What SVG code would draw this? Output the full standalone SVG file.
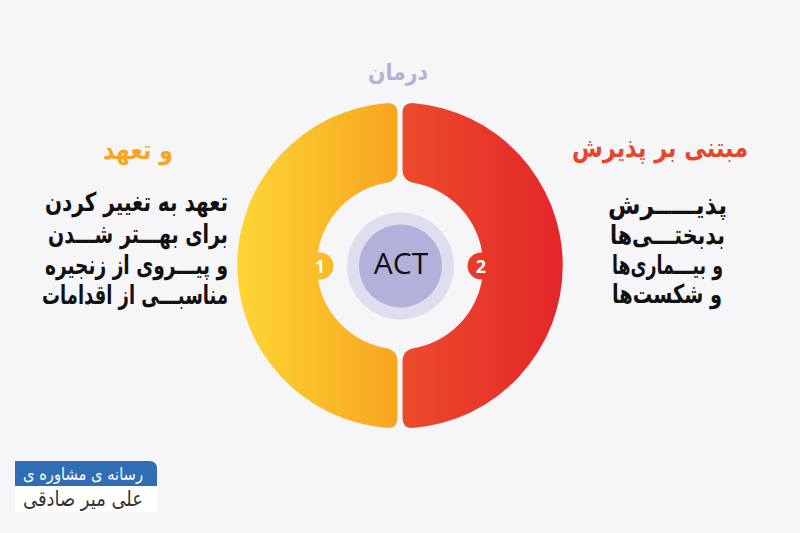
<svg xmlns="http://www.w3.org/2000/svg" width="800" height="533" viewBox="0 0 800 533">
<defs>
<linearGradient id="gL" gradientUnits="userSpaceOnUse" x1="237" y1="0" x2="398" y2="0">
<stop offset="0" stop-color="#fdd535"/><stop offset="1" stop-color="#f8a51f"/>
</linearGradient>
<linearGradient id="gR" gradientUnits="userSpaceOnUse" x1="402" y1="0" x2="563" y2="0">
<stop offset="0" stop-color="#ec4b2b"/><stop offset="1" stop-color="#e4262a"/>
</linearGradient>
<style>
.ar{font-family:"DejaVu Sans",sans-serif;font-weight:bold;}
.body{font-size:26px;fill:#111;text-anchor:end;}
.num{font-family:"Open Sans","DejaVu Sans",sans-serif;font-weight:bold;font-size:18px;fill:#fff;text-anchor:middle;}
</style>
</defs>
<rect width="800" height="533" fill="#f6f6f8"/>
<text class="ar" x="428" y="80" font-size="23" fill="#b2b2d6" text-anchor="end" textLength="60" lengthAdjust="spacingAndGlyphs">درمان</text>
<g id="seg1">
<path fill="url(#gL)" d="M397.5,113 L397.5,169 Q397.5,181.5 385,183 A84,84 0 0 0 385,348 Q397.5,349.5 397.5,362 L397.5,418 Q397.5,428.2 387.5,428 A163,163 0 0 1 387.5,103 Q397.5,102.8 397.5,113 Z"/>
<circle cx="320" cy="266" r="13.5" fill="url(#gL)"/>
<text class="num" x="320" y="272.5">1</text>
</g>
<g id="seg2">
<path fill="url(#gR)" d="M402.5,113 L402.5,169 Q402.5,181.5 415,183 A84,84 0 0 1 415,348 Q402.5,349.5 402.5,362 L402.5,418 Q402.5,428.2 412.5,428 A163,163 0 0 0 412.5,103 Q402.5,102.8 402.5,113 Z"/>
<circle cx="481" cy="266" r="13.5" fill="url(#gR)"/>
<text class="num" x="481" y="272.5">2</text>
</g>
<g id="act">
<circle cx="400.5" cy="266" r="53.5" fill="#dedeee"/>
<circle cx="400.5" cy="266" r="41.5" fill="#b1b1d9"/>
<text x="401" y="274" font-family="Open Sans, Lato, sans-serif" font-size="30" fill="#111" text-anchor="middle">ACT</text>
</g>
<g id="left-text" class="ar">
<text x="173" y="159" font-size="26" fill="#f6a623" text-anchor="end" textLength="70" lengthAdjust="spacingAndGlyphs">و تعهد</text>
<text class="body" x="228" y="211" textLength="183" lengthAdjust="spacingAndGlyphs">تعهد به تغییر کردن</text>
<text class="body" x="228" y="243" textLength="180" lengthAdjust="spacingAndGlyphs">برای بهـــتر شـــدن</text>
<text class="body" x="228" y="274" textLength="183" lengthAdjust="spacingAndGlyphs">و پیـــروی از زنجیره</text>
<text class="body" x="228" y="304" textLength="186" lengthAdjust="spacingAndGlyphs">مناسبـــی از اقدامات</text>
</g>
<g id="right-text" class="ar">
<text x="748" y="157" font-size="27" fill="#e8462a" text-anchor="end" textLength="176" lengthAdjust="spacingAndGlyphs">مبتنی بر پذیرش</text>
<text class="body" x="727" y="214" textLength="119" lengthAdjust="spacingAndGlyphs">پذیـــــرش</text>
<text class="body" x="725" y="244" textLength="115" lengthAdjust="spacingAndGlyphs">بدبختـــی‌ها</text>
<text class="body" x="723" y="274" textLength="111" lengthAdjust="spacingAndGlyphs">و بیـــماری‌ها</text>
<text class="body" x="722" y="303" textLength="110" lengthAdjust="spacingAndGlyphs">و شکست‌ها</text>
</g>
<g id="badge">
<path d="M15,461 H149 Q157,461 157,469 V486 H15 Z" fill="#2f6db4"/>
<rect x="15" y="486" width="142" height="26" fill="#ffffff"/>
<text x="143" y="480" font-family="DejaVu Sans, sans-serif" font-size="17" fill="#fff" text-anchor="end" textLength="120" lengthAdjust="spacingAndGlyphs">رسانه ی مشاوره ی</text>
<text x="143" y="506" font-family="DejaVu Sans, sans-serif" font-size="21" fill="#333" text-anchor="end" textLength="120" lengthAdjust="spacingAndGlyphs">علی میر صادقی</text>
</g>
</svg>
